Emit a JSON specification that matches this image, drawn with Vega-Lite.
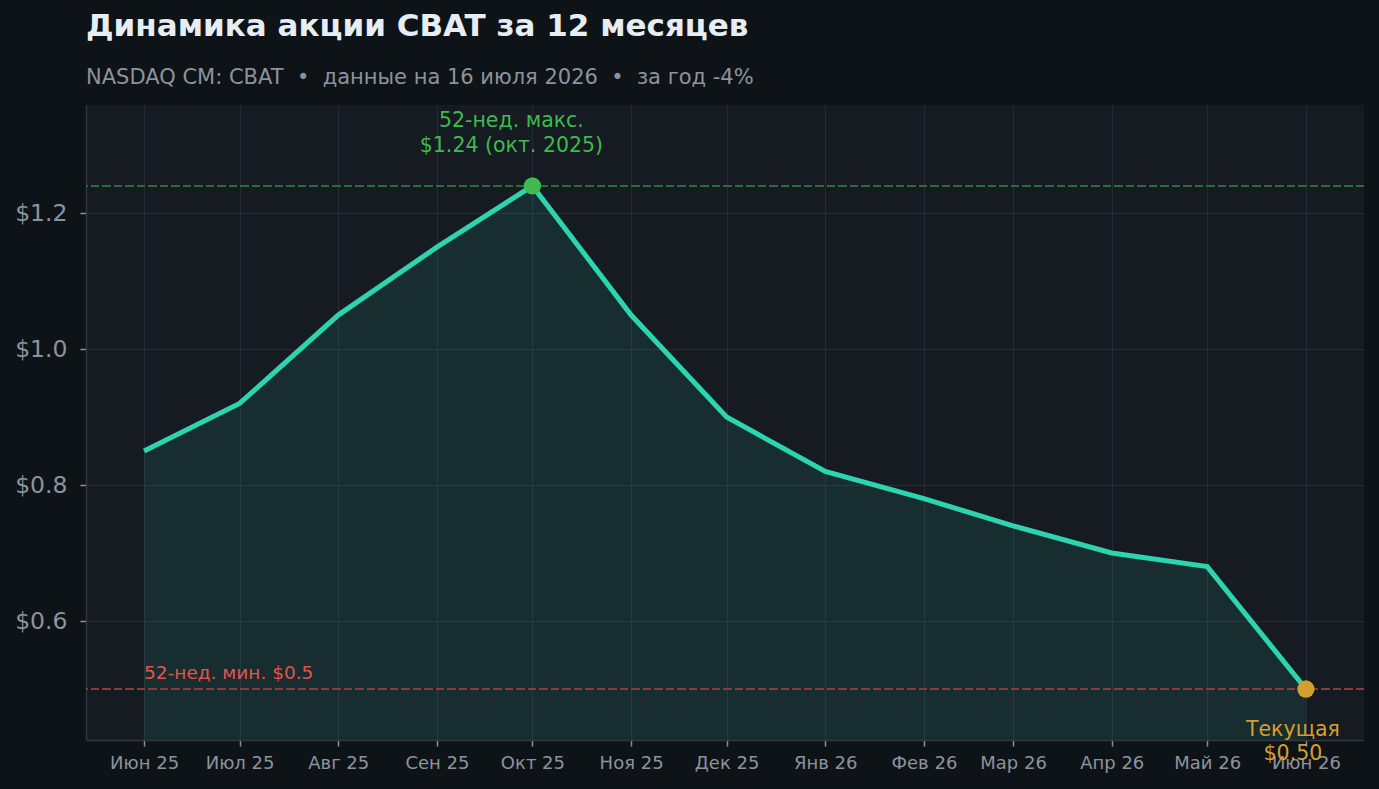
{
  "$schema": "https://vega.github.io/schema/vega-lite/v6.json",
  "description": "CBAT share price over 12 months",
  "background": "#0e1317",
  "autosize": {"type": "none"},
  "padding": {"left": 86, "top": 105, "right": 15, "bottom": 49},
  "width": 1278,
  "height": 635,
  "title": {
    "text": "Динамика акции CBAT за 12 месяцев",
    "subtitle": "NASDAQ CM: CBAT \u00a0•\u00a0 данные на 16 июля 2026 \u00a0•\u00a0 за год -4%",
    "anchor": "start",
    "frame": "group",
    "font": "DejaVu Sans",
    "fontSize": 31,
    "fontWeight": "bold",
    "color": "#e6edf3",
    "subtitleFont": "DejaVu Sans",
    "subtitleFontSize": 21,
    "subtitleColor": "#8b949e",
    "subtitlePadding": 24,
    "offset": 16
  },
  "datasets": {
    "price": [
      {"date": "2025-06-01", "value": 0.85},
      {"date": "2025-07-01", "value": 0.92},
      {"date": "2025-08-01", "value": 1.05},
      {"date": "2025-09-01", "value": 1.15},
      {"date": "2025-10-01", "value": 1.24},
      {"date": "2025-11-01", "value": 1.05},
      {"date": "2025-12-01", "value": 0.90},
      {"date": "2026-01-01", "value": 0.82},
      {"date": "2026-02-01", "value": 0.78},
      {"date": "2026-03-01", "value": 0.74},
      {"date": "2026-04-01", "value": 0.70},
      {"date": "2026-05-01", "value": 0.68},
      {"date": "2026-06-01", "value": 0.50}
    ],
    "marks": [
      {"date": "2025-10-01", "value": 1.24, "kind": "max", "label": ["52-нед. макс.", "$1.24 (окт. 2025)"]},
      {"date": "2026-06-01", "value": 0.50, "kind": "now", "label": ["Текущая", "$0.50"]}
    ],
    "lows": [
      {"date": "2025-06-01", "value": 0.50, "label": "52-нед. мин. $0.5"}
    ]
  },
  "data": {"name": "price"},
  "encoding": {
    "x": {
      "field": "date",
      "type": "temporal",
      "title": null,
      "scale": {
        "type": "utc",
        "domain": [
          {"year": 2025, "month": 5, "date": 13, "hours": 18, "utc": true},
          {"year": 2026, "month": 6, "date": 19, "hours": 6, "utc": true}
        ]
      },
      "axis": {
        "values": [
          {"year": 2025, "month": 6, "date": 1, "utc": true},
          {"year": 2025, "month": 7, "date": 1, "utc": true},
          {"year": 2025, "month": 8, "date": 1, "utc": true},
          {"year": 2025, "month": 9, "date": 1, "utc": true},
          {"year": 2025, "month": 10, "date": 1, "utc": true},
          {"year": 2025, "month": 11, "date": 1, "utc": true},
          {"year": 2025, "month": 12, "date": 1, "utc": true},
          {"year": 2026, "month": 1, "date": 1, "utc": true},
          {"year": 2026, "month": 2, "date": 1, "utc": true},
          {"year": 2026, "month": 3, "date": 1, "utc": true},
          {"year": 2026, "month": 4, "date": 1, "utc": true},
          {"year": 2026, "month": 5, "date": 1, "utc": true},
          {"year": 2026, "month": 6, "date": 1, "utc": true}
        ],
        "labelExpr": "['Янв','Фев','Мар','Апр','Май','Июн','Июл','Авг','Сен','Окт','Ноя','Дек'][utcmonth(datum.value)] + ' ' + utcFormat(datum.value, '%y')",
        "labelFontSize": 18,
        "labelPadding": 8
      }
    },
    "y": {
      "field": "value",
      "type": "quantitative",
      "title": null,
      "scale": {"domain": [0.425, 1.359], "zero": false, "nice": false},
      "axis": {
        "values": [0.6, 0.8, 1.0, 1.2],
        "format": "$.1f",
        "labelFontSize": 23.5,
        "labelPadding": 13
      }
    }
  },
  "layer": [
    {
      "mark": {"type": "area", "color": "#2dd4b0", "opacity": 0.1},
      "encoding": {"y2": {"datum": 0.425}}
    },
    {
      "mark": {"type": "rule", "color": "#2e6b3d", "strokeDash": [8, 3.5], "strokeWidth": 1.6},
      "encoding": {"x": null, "y": {"datum": 1.24}}
    },
    {
      "mark": {"type": "rule", "color": "#8a3c3c", "strokeDash": [8, 3.5], "strokeWidth": 1.6},
      "encoding": {"x": null, "y": {"datum": 0.5}}
    },
    {
      "mark": {"type": "line", "color": "#2dd4b0", "strokeWidth": 5}
    },
    {
      "data": {"name": "marks"},
      "transform": [{"filter": "datum.kind == 'max'"}],
      "mark": {"type": "circle", "size": 300, "opacity": 1, "color": "#3fb950"}
    },
    {
      "data": {"name": "marks"},
      "transform": [{"filter": "datum.kind == 'now'"}],
      "mark": {"type": "circle", "size": 300, "opacity": 1, "color": "#d69e2e"}
    },
    {
      "data": {"name": "marks"},
      "transform": [{"filter": "datum.kind == 'max'"}],
      "mark": {"type": "text", "font": "DejaVu Sans", "fontSize": 20.5, "align": "center", "baseline": "bottom", "dy": -55, "dx": -21, "lineHeight": 25, "color": "#3fb950"},
      "encoding": {"text": {"field": "label"}}
    },
    {
      "data": {"name": "marks"},
      "transform": [{"filter": "datum.kind == 'now'"}],
      "mark": {"type": "text", "font": "DejaVu Sans", "fontSize": 20.5, "align": "center", "baseline": "top", "dy": 31, "dx": -13, "lineHeight": 24, "color": "#d69e2e"},
      "encoding": {"text": {"field": "label"}}
    },
    {
      "data": {"name": "lows"},
      "mark": {"type": "text", "font": "DejaVu Sans", "fontSize": 18.5, "align": "left", "baseline": "alphabetic", "dy": -10, "color": "#e5534b"},
      "encoding": {"text": {"field": "label"}}
    }
  ],
  "config": {
    "view": {"fill": "#161a21", "stroke": null},
    "axis": {
      "labelFont": "DejaVu Sans",
      "labelColor": "#8b949e",
      "gridColor": "#252b33",
      "gridWidth": 1,
      "domainColor": "#30363d",
      "domainWidth": 1.5,
      "tickColor": "#8b949e",
      "tickSize": 6,
      "tickWidth": 1.5
    }
  }
}
